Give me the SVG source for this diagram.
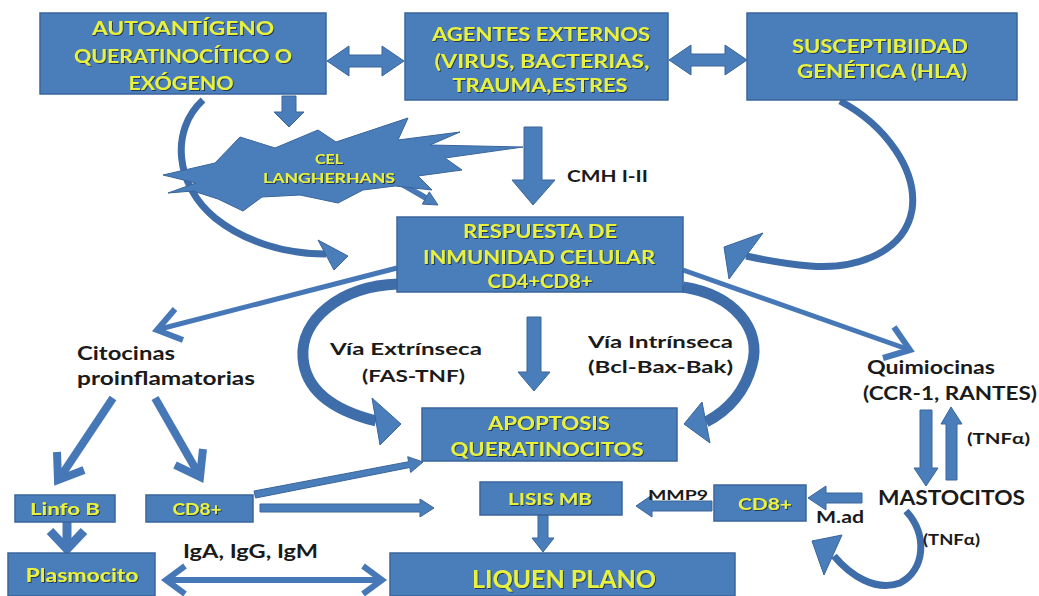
<svg xmlns="http://www.w3.org/2000/svg" width="1039" height="596" viewBox="0 0 1039 596">
<defs>
<style>
.box{fill:#4A7EBB;stroke:#3A659A;stroke-width:1.5}
.blk{fill:#4A7EBB;stroke:#3A659A;stroke-width:1}
.ln{fill:none;stroke:#4677B6;stroke-linecap:butt}
.cv{fill:none;stroke:#3E6DA9}
.chev{fill:none;stroke:#4677B6;stroke-linejoin:miter;stroke-linecap:butt}
.yt{font-family:Lato,"Liberation Sans",sans-serif;font-weight:700;fill:#E8F23E;text-anchor:middle;filter:url(#sh)}
.bt{font-family:Lato,"Liberation Sans",sans-serif;font-weight:700;fill:#1A1A1A}
</style>
<filter id="sh" x="-10%" y="-30%" width="120%" height="160%">
<feDropShadow dx="1" dy="1" stdDeviation="0.6" flood-color="#1E3350" flood-opacity="0.9"/>
</filter>
</defs>
<rect width="1039" height="596" fill="#FFFFFF"/>

<g id="connectors">
<polygon class="blk" points="327,61 349,46 349,55 382,55 382,46 404,61 382,76 382,67 349,67 349,76"/>
<polygon class="blk" points="669,60 691,45 691,54 725,54 725,45 747,60 725,75 725,66 691,66 691,75"/>
<polygon class="blk" points="282,96 296,96 296,112 304,112 289,127 274,112 282,112"/>
<polygon class="blk" points="524,127 542,127 542,180 555,180 533,205 512,180 524,180"/>
<path class="cv" stroke-width="7" d="M203,100 C170,130 175,185 215,218 C245,242 285,254 326,254"/>
<polygon class="blk" points="318,240 348,256 334,270"/>
<line class="ln" stroke-width="6" x1="400" y1="183" x2="426" y2="198"/>
<polygon class="blk" points="429.3,191.9 438,205 422.3,204.1"/>
<path class="cv" stroke-width="7" d="M840,101 C885,125 918,170 912,210 C905,250 860,270 810,266 C785,264 765,260 746,256"/>
<polygon class="blk" points="763,233 724,247 729,279"/>
<line class="ln" stroke-width="5" x1="397" y1="268" x2="160" y2="329"/>
<path class="chev" stroke-width="6" d="M175,309 L157,330 L183,340"/>
<line class="ln" stroke-width="5" x1="683" y1="270" x2="907" y2="349"/>
<path class="chev" stroke-width="6" d="M894,327 L910,350 L883,358"/>
<path class="cv" stroke-width="11" d="M398,284 C340,286 300,320 303,358 C306,395 340,412 376,421"/>
<polygon class="blk" points="372,398 401,424 380,445"/>
<path class="cv" stroke-width="11" d="M683,287 C735,295 762,330 752,365 C744,395 725,412 706,422"/>
<polygon class="blk" points="702,402 684,424 710,443"/>
<polygon class="blk" points="527,317 541,317 541,372 550,372 534,391 518,372 527,372"/>
<line class="ln" stroke-width="8" x1="113" y1="398" x2="61" y2="476"/>
<path class="chev" stroke-width="8" d="M84,470 L58,480 L57,452"/>
<line class="ln" stroke-width="8" x1="155" y1="398" x2="198" y2="473"/>
<path class="chev" stroke-width="8" d="M203,449 L200,477 L175,465"/>
<line class="ln" stroke-width="9" x1="67" y1="522" x2="67" y2="545"/>
<path class="chev" stroke-width="9" d="M50,531 L67,549 L84,531"/>
<line class="ln" stroke-width="6" x1="166" y1="580" x2="382" y2="580"/>
<path class="chev" stroke-width="6" d="M185,566 L166,580 L185,594"/>
<path class="chev" stroke-width="6" d="M363,566 L382,580 L363,594"/>
<polygon class="blk" points="254,491 408.6,461.7 407.7,456.7 423,462 410.7,472.5 409.8,467.5 255.6,498"/>
<polygon class="blk" points="260,504 420,504 420,499 434,508 420,517 420,512 260,512"/>
<polygon class="blk" points="538,515 548,515 548,538 554,538 543,552 532,538 538,538"/>
<polygon class="blk" points="712,501 652,501 652,495 636,506 652,517 652,511 712,511"/>
<polygon class="blk" points="862,493 826,493 826,486 808,498 826,510 826,503 862,503"/>
<polygon class="blk" points="920,410 932,410 932,468 938,468 926,486 914,468 920,468"/>
<polygon class="blk" points="946,480 957,480 957,424 962,424 951,407 941,424 946,424"/>
<path class="cv" stroke-width="7" d="M906,511 C928,535 925,570 900,583 C875,592 850,575 834,556"/>
<polygon class="blk" points="812,541 842,535 824,575"/>
</g>

<g id="n-autoantigeno">
<rect class="box" x="40" y="13" width="286" height="81"/>
<text class="yt" x="183" y="35" font-size="18" textLength="182" lengthAdjust="spacingAndGlyphs">AUTOANTÍGENO</text>
<text class="yt" x="183" y="63" font-size="18" textLength="218" lengthAdjust="spacingAndGlyphs">QUERATINOCÍTICO O</text>
<text class="yt" x="181" y="90" font-size="18" textLength="105" lengthAdjust="spacingAndGlyphs">EXÓGENO</text>
</g>
<g id="n-agentes">
<rect class="box" x="405" y="13" width="263" height="87"/>
<text class="yt" x="541" y="41" font-size="18" textLength="218" lengthAdjust="spacingAndGlyphs">AGENTES EXTERNOS</text>
<text class="yt" x="542" y="68" font-size="18" textLength="215" lengthAdjust="spacingAndGlyphs">(VIRUS, BACTERIAS,</text>
<text class="yt" x="540" y="92" font-size="18" textLength="175" lengthAdjust="spacingAndGlyphs">TRAUMA,ESTRES</text>
</g>
<g id="n-susceptibilidad">
<rect class="box" x="747" y="13" width="270" height="87"/>
<text class="yt" x="880" y="53" font-size="18" textLength="176" lengthAdjust="spacingAndGlyphs">SUSCEPTIBIIDAD</text>
<text class="yt" x="882" y="78" font-size="18" textLength="170" lengthAdjust="spacingAndGlyphs">GENÉTICA (HLA)</text>
</g>
<g id="n-langerhans">
<polygon class="blk" points="163,175 215,163 240,137 275,148 318,130 336,142 408,118 398,140 460,132 430,145 523,147 445,158 462,170 418,176 432,190 395,186 363,190 338,203 300,195 262,197 243,211 218,199 193,191 168,193 196,183"/>
<text class="yt" x="329" y="164" font-size="13" textLength="28" lengthAdjust="spacingAndGlyphs">CEL</text>
<text class="yt" x="329" y="183" font-size="13" textLength="132" lengthAdjust="spacingAndGlyphs">LANGHERHANS</text>
</g>
<g id="l-cmh">
<text class="bt" x="567" y="182" font-size="17" textLength="81" lengthAdjust="spacingAndGlyphs">CMH I-II</text>
</g>
<g id="n-respuesta">
<rect class="box" x="397" y="217" width="286" height="75"/>
<text class="yt" x="540" y="238" font-size="18" textLength="154" lengthAdjust="spacingAndGlyphs">RESPUESTA DE</text>
<text class="yt" x="539" y="264" font-size="18" textLength="232" lengthAdjust="spacingAndGlyphs">INMUNIDAD CELULAR</text>
<text class="yt" x="540" y="288" font-size="18" textLength="105" lengthAdjust="spacingAndGlyphs">CD4+CD8+</text>
</g>
<g id="n-citocinas">
<text class="bt" x="77" y="360" font-size="18" textLength="98" lengthAdjust="spacingAndGlyphs">Citocinas</text>
<text class="bt" x="77" y="385" font-size="18" textLength="178" lengthAdjust="spacingAndGlyphs">proinflamatorias</text>
</g>
<g id="l-extrinseca">
<text class="bt" x="330" y="355" font-size="17" textLength="152" lengthAdjust="spacingAndGlyphs">Vía Extrínseca</text>
<text class="bt" x="362" y="382" font-size="17" textLength="103" lengthAdjust="spacingAndGlyphs">(FAS-TNF)</text>
</g>
<g id="l-intrinseca">
<text class="bt" x="588" y="348" font-size="17" textLength="145" lengthAdjust="spacingAndGlyphs">Vía Intrínseca</text>
<text class="bt" x="588" y="373" font-size="17" textLength="145" lengthAdjust="spacingAndGlyphs">(Bcl-Bax-Bak)</text>
</g>
<g id="n-quimiocinas">
<text class="bt" x="867" y="374" font-size="18" textLength="128" lengthAdjust="spacingAndGlyphs">Quimiocinas</text>
<text class="bt" x="863" y="400" font-size="18" textLength="174" lengthAdjust="spacingAndGlyphs">(CCR-1, RANTES)</text>
</g>
<g id="n-apoptosis">
<rect class="box" x="422" y="408" width="255" height="53"/>
<text class="yt" x="549" y="430" font-size="18" textLength="122" lengthAdjust="spacingAndGlyphs">APOPTOSIS</text>
<text class="yt" x="547" y="456" font-size="18" textLength="193" lengthAdjust="spacingAndGlyphs">QUERATINOCITOS</text>
</g>
<g id="l-tnf1">
<text class="bt" x="967" y="444" font-size="15" textLength="63" lengthAdjust="spacingAndGlyphs">(TNFα)</text>
</g>
<g id="n-linfob">
<rect class="box" x="15" y="495" width="100" height="27"/>
<text class="yt" x="65" y="515" font-size="17" textLength="70" lengthAdjust="spacingAndGlyphs">Linfo B</text>
</g>
<g id="n-cd8-left">
<rect class="box" x="146" y="495" width="107" height="27"/>
<text class="yt" x="197" y="515" font-size="17" textLength="49" lengthAdjust="spacingAndGlyphs">CD8+</text>
</g>
<g id="n-lisis">
<rect class="box" x="480" y="482" width="142" height="33"/>
<text class="yt" x="550" y="505" font-size="17" textLength="84" lengthAdjust="spacingAndGlyphs">LISIS MB</text>
</g>
<g id="l-mmp9">
<text class="bt" x="648" y="500" font-size="14" textLength="60" lengthAdjust="spacingAndGlyphs">MMP9</text>
</g>
<g id="n-cd8-right">
<rect class="box" x="714" y="485" width="92" height="36"/>
<text class="yt" x="765" y="510" font-size="17" textLength="54" lengthAdjust="spacingAndGlyphs">CD8+</text>
</g>
<g id="n-mastocitos">
<text class="bt" x="878" y="505" font-size="21" textLength="147" lengthAdjust="spacingAndGlyphs">MASTOCITOS</text>
</g>
<g id="l-mad">
<text class="bt" x="816" y="523" font-size="17" textLength="48" lengthAdjust="spacingAndGlyphs">M.ad</text>
</g>
<g id="l-tnf2">
<text class="bt" x="923" y="545" font-size="15" textLength="57" lengthAdjust="spacingAndGlyphs">(TNFα)</text>
</g>
<g id="n-plasmocito">
<rect class="box" x="8" y="553" width="147" height="43"/>
<text class="yt" x="82" y="582" font-size="18" textLength="113" lengthAdjust="spacingAndGlyphs">Plasmocito</text>
</g>
<g id="l-ig">
<text class="bt" x="183" y="558" font-size="18" textLength="135" lengthAdjust="spacingAndGlyphs">IgA, IgG, IgM</text>
</g>
<g id="n-liquen">
<rect class="box" x="390" y="553" width="345" height="43"/>
<text class="yt" x="564" y="588" font-size="24" textLength="184" lengthAdjust="spacingAndGlyphs">LIQUEN PLANO</text>
</g>
</svg>
